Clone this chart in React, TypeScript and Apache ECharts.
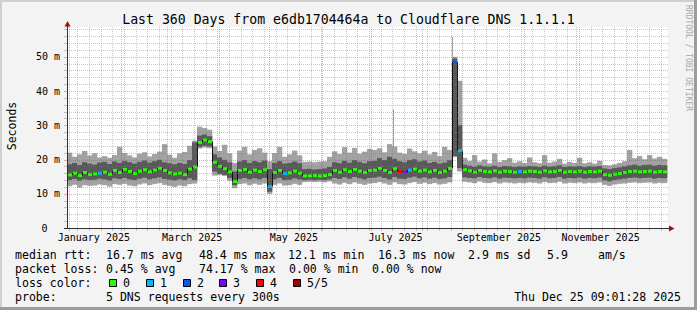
import React, { useEffect, useRef } from 'react';
import * as echarts from 'echarts';

const FONT = '"DejaVu Sans Mono", monospace';
const DAY_MS = 86400000;
const X_START = Date.UTC(2024, 11, 30, 21, 0, 0);
const X_END = X_START + 360 * DAY_MS;
const STEP_DAYS = 3;
const Y_MAX = 58.4;

// one value per 3-day column (120 columns over 360 days), milliseconds
const median = [
  15.5, 16.0, 15.3, 16.2, 15.6, 15.8, 16.0, 16.3, 15.7, 16.8,
  16.2, 17.1, 16.5, 15.9, 16.6, 17.0, 16.4, 16.9, 17.4, 16.8,
  16.1, 15.8, 16.0, 15.6, 17.2, 17.8, 25.0, 25.7, 25.2, 19.2,
  18.0, 17.3, 16.4, 13.6, 16.8, 17.1, 16.3, 16.9, 16.5, 17.0,
  12.1, 16.2, 16.8, 15.9, 16.1, 16.6, 16.0, 15.2, 15.2, 15.3,
  15.2, 15.3, 15.6, 16.8, 16.3, 17.0, 16.5, 17.1, 16.6, 16.2,
  16.8, 16.9, 17.4, 16.8, 16.2, 17.3, 16.5, 16.3, 16.9, 17.2,
  16.6, 16.9, 16.4, 16.8, 16.2, 16.6, 17.4, 48.4, 22.6, 17.0,
  16.7, 16.3, 16.8, 16.5, 16.4, 16.7, 16.3, 16.6, 16.5, 16.3,
  16.5, 16.4, 16.6, 16.5, 16.3, 16.7, 16.4, 16.5, 16.8, 16.3,
  16.5, 16.4, 16.6, 16.3, 16.5, 16.4, 16.6, 15.6, 15.4, 15.7,
  15.9, 16.2, 16.5, 16.6, 16.4, 16.5, 16.6, 16.3, 16.5, 16.4,
];
const darkLow = [
  14.0, 14.3, 13.8, 14.2, 14.0, 14.1, 14.4, 14.2, 13.9, 14.5,
  14.3, 14.6, 14.2, 14.0, 14.4, 14.7, 14.2, 14.5, 14.8, 14.3,
  14.1, 13.9, 14.2, 14.0, 14.5, 14.0, 23.6, 24.0, 23.8, 16.5,
  15.8, 15.5, 14.6, 12.5, 14.3, 14.6, 14.2, 14.5, 14.2, 14.6,
  10.6, 14.2, 14.6, 14.0, 14.1, 14.5, 14.2, 14.0, 14.1, 14.0,
  14.1, 14.0, 14.2, 14.6, 14.3, 14.8, 14.4, 14.9, 14.5, 14.2,
  14.6, 14.7, 15.0, 14.6, 14.2, 14.9, 14.4, 14.3, 14.7, 15.0,
  14.5, 14.8, 14.4, 14.7, 14.3, 14.5, 14.9, 21.0, 17.5, 14.8,
  14.6, 14.5, 14.9, 14.6, 14.5, 14.8, 14.4, 14.7, 14.6, 14.5,
  14.6, 14.5, 14.7, 14.6, 14.4, 14.8, 14.5, 14.6, 14.9, 14.4,
  14.6, 14.5, 14.7, 14.4, 14.6, 14.5, 14.7, 13.9, 13.6, 14.0,
  14.2, 14.4, 14.6, 14.7, 14.5, 14.6, 14.7, 14.4, 14.6, 14.5,
];
const darkHigh = [
  18.6, 19.0, 18.4, 19.2, 18.8, 18.5, 19.1, 19.3, 18.7, 19.4,
  19.0, 19.6, 19.2, 18.8, 19.3, 19.7, 19.1, 19.5, 19.9, 19.2,
  18.9, 18.6, 19.0, 18.7, 19.8, 25.0, 27.0, 27.3, 26.8, 21.5,
  20.6, 19.9, 19.2, 16.5, 19.4, 19.8, 19.0, 19.6, 19.2, 19.7,
  17.2, 19.0, 19.5, 18.8, 19.0, 19.4, 18.9, 17.2, 17.3, 17.1,
  17.2, 17.4, 17.8, 19.2, 18.9, 19.6, 19.1, 19.8, 19.3, 18.9,
  19.5, 19.6, 20.4, 19.8, 20.8, 20.2, 19.5, 19.2, 19.8, 20.1,
  19.4, 19.7, 19.0, 19.3, 18.8, 19.1, 19.8, 49.5, 30.0, 18.5,
  18.2, 17.9, 18.3, 18.0, 17.9, 18.2, 17.8, 18.1, 18.0, 17.8,
  18.0, 17.9, 18.1, 18.0, 17.8, 18.2, 17.9, 18.0, 18.3, 17.8,
  18.0, 17.9, 18.1, 17.8, 18.0, 17.9, 18.1, 17.4, 17.2, 17.5,
  17.7, 18.0, 18.3, 18.5, 18.2, 18.4, 18.5, 18.2, 18.4, 18.3,
];
const lightLow = [
  12.2, 12.6, 11.8, 12.5, 12.3, 12.4, 12.7, 12.5, 12.1, 12.8,
  12.6, 12.9, 12.4, 12.2, 12.7, 13.0, 12.5, 12.8, 13.1, 12.6,
  12.3, 12.0, 12.4, 12.2, 12.8, 13.0, 23.2, 23.5, 23.3, 15.3,
  15.5, 15.2, 13.8, 11.6, 12.8, 13.0, 12.5, 12.9, 12.6, 13.0,
  10.0, 12.6, 13.0, 12.4, 12.5, 12.9, 12.6, 13.4, 13.5, 13.4,
  13.5, 13.3, 13.6, 13.0, 12.7, 13.2, 12.8, 13.3, 12.9, 12.6,
  13.0, 13.1, 13.4, 13.0, 12.6, 13.3, 12.8, 12.7, 13.1, 13.4,
  12.9, 13.2, 12.8, 13.1, 12.7, 12.9, 13.3, 20.7, 16.5, 13.5,
  13.3, 13.1, 13.6, 13.2, 13.1, 13.4, 13.0, 13.3, 13.2, 13.0,
  13.2, 13.1, 13.3, 13.2, 13.0, 13.4, 13.1, 13.2, 13.5, 13.0,
  13.2, 13.1, 13.3, 13.0, 13.2, 13.1, 13.3, 12.6, 12.3, 12.7,
  12.9, 13.0, 13.2, 13.3, 13.1, 13.2, 13.3, 13.0, 13.2, 13.1,
];
const lightHigh = [
  22.0, 20.8, 21.5, 22.5, 21.2, 21.8, 20.6, 21.0, 20.5, 21.3,
  23.7, 21.9, 21.2, 20.6, 21.7, 22.1, 20.9, 21.6, 22.3, 24.5,
  21.4, 20.5, 21.8, 22.2, 24.0, 25.5, 29.6, 29.2, 28.7, 23.8,
  22.5, 24.3, 21.8, 19.0, 22.6, 23.7, 21.5, 22.8, 23.3, 22.0,
  19.5, 21.9, 23.7, 20.8, 21.5, 22.6, 21.2, 19.3, 19.4, 19.2,
  19.4, 19.5, 20.8, 22.4, 21.6, 23.6, 22.0, 23.4, 21.7, 22.3,
  23.1, 22.8, 23.3, 22.1, 24.5, 23.8, 22.0, 21.6, 23.2, 22.4,
  21.8, 22.6, 21.5, 22.2, 21.0, 23.7, 22.8, 50.0, 43.0, 20.5,
  19.6, 21.3, 19.4, 20.0, 18.9, 21.8, 19.3, 19.8, 20.4, 19.1,
  19.5, 19.0, 20.6, 19.2, 18.9, 21.3, 19.1, 19.4, 20.2, 18.8,
  19.3, 19.0, 20.5, 18.9, 19.2, 18.8, 19.6, 18.4, 18.3, 18.6,
  19.0, 19.5, 22.8, 20.4, 21.0, 20.1, 21.3, 20.3, 20.8, 20.2,
];

// columns whose median is drawn in a loss colour other than "0"
const lossColumns = [6, 40, 43, 66, 67, 68, 77, 78, 90];
const lossLevels = [1, 1, 1, 4, 3, 1, 2, 1, 1];
const lossColors = ['#26ff00', '#00b8ff', '#0059ff', '#7e00ff', '#ff0000', '#a10000'];
const lossNames = ['0', '1', '2', '3', '4', '5/5'];

// thin single-sample spikes of the outer smoke
const spikeDates = ['2025-07-14T12:00:00Z', '2025-08-19T03:00:00Z'];
const spikeBase = [23.0, 49.5];
const spikeTop = [34.6, 55.8];

const monthLabels = ['January 2025', 'March 2025', 'May 2025', 'July 2025', 'September 2025', 'November 2025'];
const monthLabelDates = ['2025-01-16T00:00:00Z', '2025-03-16T00:00:00Z', '2025-05-16T00:00:00Z', '2025-07-16T00:00:00Z', '2025-09-16T00:00:00Z', '2025-11-16T00:00:00Z'];

const legendRtt = ['median rtt:', '16.7 ms avg', '48.4 ms max', '12.1 ms min', '16.3 ms now', '2.9 ms sd', '5.9', 'am/s'];
const legendRttX = [15, 106, 199, 288, 378, 468, 547, 598];
const legendLoss = ['packet loss:', '0.45 % avg', '74.17 % max', '0.00 % min', '0.00 % now'];
const legendLossX = [15, 106, 199, 289, 372];

const LIGHT = '#a2a2a2';
const DARK = '#595959';
const MINOR = 'rgba(120,120,120,0.42)';
const MAJOR = 'rgba(220,40,40,0.38)';

export default function App() {
  const ref = useRef<HTMLDivElement>(null);

  useEffect(() => {
    if (!ref.current) return;
    const chart = echarts.init(ref.current, null, { renderer: 'svg' });
    const n = Math.min(median.length, darkLow.length, darkHigh.length, lightLow.length, lightHigh.length);
    const colT = (i: number) => X_START + i * STEP_DAYS * DAY_MS;

    const smokeData: number[][] = [];
    const medData: number[][] = [];
    for (let i = 0; i < n; i++) {
      smokeData.push([colT(i), colT(i + 1), lightLow[i], lightHigh[i], darkLow[i], darkHigh[i]]);
      const li = lossColumns.indexOf(i);
      medData.push([colT(i), colT(i + 1), median[i], i > 0 ? median[i - 1] : median[i], li >= 0 ? lossLevels[li] : 0]);
    }
    const spikeData = spikeDates.map((d, i) => [Date.parse(d), spikeBase[i], spikeTop[i]]);

    // grid lines: [x, y, code] code 0 = minor horizontal, 1 = major horizontal, 2 = minor vertical, 3 = major vertical
    const gridData: number[][] = [];
    for (let v = 2; v < Y_MAX; v += 2) gridData.push([X_START, v, v % 10 === 0 ? 1 : 0]);
    const monthStarts: number[] = [];
    for (let m = 0; m < 12; m++) monthStarts.push(Date.UTC(2025, m, 1));
    for (let t = Date.UTC(2025, 0, 6); t < X_END; t += 7 * DAY_MS) {
      if (monthStarts.indexOf(t) < 0) gridData.push([t, 0, 2]);
    }
    monthStarts.forEach((t) => { if (t > X_START && t < X_END) gridData.push([t, 0, 3]); });

    const labelData = monthLabelDates.map((d) => [Date.parse(d), 0]);

    const txt = (text: string, x: number, y: number, size: number, extra: any = {}) => ({
      type: 'text', x, y, z: 20, silent: true,
      style: {
        text, fill: extra.fill || '#000', fontSize: size, fontFamily: FONT,
        align: extra.align || 'left', textAlign: extra.align || 'left',
        verticalAlign: 'middle', textVerticalAlign: 'middle',
      },
      rotation: extra.rotation || 0,
    });

    const graphics: any[] = [
      { type: 'rect', z: 0, silent: true, shape: { x: 67, y: 27, width: 601, height: 201 }, style: { fill: '#ffffff' } },
      { type: 'rect', z: 0, silent: true, shape: { x: 0, y: 0, width: 697, height: 2 }, style: { fill: '#cfcfcf' } },
      { type: 'rect', z: 0, silent: true, shape: { x: 0, y: 0, width: 2, height: 310 }, style: { fill: '#cfcfcf' } },
      { type: 'rect', z: 0, silent: true, shape: { x: 694, y: 0, width: 3, height: 310 }, style: { fill: '#9c9c9c' } },
      { type: 'rect', z: 0, silent: true, shape: { x: 0, y: 307, width: 697, height: 3 }, style: { fill: '#9c9c9c' } },
      // axes
      { type: 'line', z: 30, silent: true, shape: { x1: 67.5, y1: 229, x2: 67.5, y2: 24 }, style: { stroke: '#303030', lineWidth: 1 } },
      { type: 'line', z: 30, silent: true, shape: { x1: 64, y1: 228.5, x2: 671, y2: 228.5 }, style: { stroke: '#303030', lineWidth: 1 } },
      { type: 'polygon', z: 31, silent: true, shape: { points: [[64.5, 26.5], [70.5, 26.5], [67.5, 21]] }, style: { fill: '#a01010' } },
      { type: 'polygon', z: 31, silent: true, shape: { points: [[669, 225.5], [669, 231.5], [674.5, 228.5]] }, style: { fill: '#a01010' } },
      txt('Last 360 Days from e6db1704464a to Cloudflare DNS 1.1.1.1', 348.5, 19.4, 13.2, { align: 'center' }),
      txt('Seconds', 11.5, 126, 11.5, { align: 'center', rotation: Math.PI / 2 }),
      txt('RRDTOOL / TOBI OETIKER', 688.5, 5, 8, { align: 'left', rotation: -Math.PI / 2, fill: '#a8a8a8' }),
    ];
    legendRtt.forEach((s, i) => graphics.push(txt(s, legendRttX[i], 254.9, 11.55)));
    legendLoss.forEach((s, i) => graphics.push(txt(s, legendLossX[i], 268.9, 11.55)));
    graphics.push(txt('loss color:', 15, 283, 11.55));
    lossNames.forEach((s, i) => {
      const bx = 109 + i * 36.8;
      graphics.push({ type: 'rect', z: 20, silent: true, shape: { x: Math.round(bx) + 0.5, y: 279.5, width: 7, height: 7 }, style: { fill: lossColors[i], stroke: '#000', lineWidth: 1 } });
      graphics.push(txt(s, Math.round(bx) + 14, 283, 11.55));
    });
    graphics.push(txt('probe:', 15, 296.6, 11.55));
    graphics.push(txt('5 DNS requests every 300s', 106, 296.6, 11.55));
    graphics.push(txt('Thu Dec 25 09:01:28 2025', 681, 296.6, 11.55, { align: 'right' }));

    const option: any = {
      animation: false,
      backgroundColor: '#f3f3f3',
      grid: { left: 67, top: 28, width: 600, height: 200, containLabel: false },
      xAxis: {
        type: 'value', min: X_START, max: X_END,
        axisLine: { show: false }, axisTick: { show: false }, axisLabel: { show: false }, splitLine: { show: false },
      },
      yAxis: {
        type: 'value', min: 0, max: Y_MAX, interval: 10,
        axisLine: { show: false }, axisTick: { show: false }, splitLine: { show: false },
        axisLabel: {
          margin: 7, fontFamily: FONT, fontSize: 10, color: '#000',
          formatter: (v: number) => (v === 0 ? '{z|0}' : Math.abs(v % 10) < 1e-9 ? v + ' m' : ''),
          rich: { z: { fontFamily: FONT, fontSize: 10, color: '#000', padding: [0, 12.5, 0, 0] } },
        },
      },
      graphic: graphics,
      series: [
        {
          type: 'custom', name: 'smoke', z: 2, silent: true, clip: false,
          encode: { x: [0, 1], y: [2, 3, 4, 5] },
          data: smokeData,
          renderItem: (params: any, api: any) => {
            const a = api.coord([api.value(0), api.value(2)]);
            const b = api.coord([api.value(1), api.value(3)]);
            const c = api.coord([api.value(0), api.value(4)]);
            const d = api.coord([api.value(1), api.value(5)]);
            return {
              type: 'group',
              children: [
                { type: 'rect', shape: { x: a[0], y: b[1], width: b[0] - a[0] + 0.3, height: a[1] - b[1] }, style: { fill: LIGHT } },
                { type: 'rect', shape: { x: c[0], y: d[1], width: d[0] - c[0] + 0.3, height: c[1] - d[1] }, style: { fill: DARK } },
              ],
            };
          },
        },
        {
          type: 'custom', name: 'spikes', z: 2, silent: true, clip: false,
          encode: { x: 0, y: [1, 2] },
          data: spikeData,
          renderItem: (params: any, api: any) => {
            const a = api.coord([api.value(0), api.value(1)]);
            const b = api.coord([api.value(0), api.value(2)]);
            return { type: 'rect', shape: { x: Math.round(a[0]), y: b[1], width: 1, height: a[1] - b[1] }, style: { fill: LIGHT } };
          },
        },
        {
          type: 'custom', name: 'median', z: 3, silent: true, clip: false,
          encode: { x: [0, 1], y: [2, 3] },
          data: medData,
          renderItem: (params: any, api: any) => {
            const p0 = api.coord([api.value(0), api.value(2)]);
            const p1 = api.coord([api.value(1), api.value(2)]);
            const pp = api.coord([api.value(0), api.value(3)]);
            const col = lossColors[api.value(4)] || lossColors[0];
            return {
              type: 'group',
              children: [
                { type: 'line', shape: { x1: p0[0] + 0.5, y1: pp[1], x2: p0[0] + 0.5, y2: p0[1] }, style: { stroke: '#111', lineWidth: 1 } },
                { type: 'rect', shape: { x: p0[0] + 1, y: p0[1] - 1.5, width: p1[0] - p0[0] - 1, height: 3 }, style: { fill: col } },
              ],
            };
          },
        },
        {
          type: 'custom', name: 'grid', z: 4, silent: true, clip: false,
          encode: { x: 0, y: 1 },
          data: gridData,
          renderItem: (params: any, api: any) => {
            const code = api.value(2);
            const color = code === 1 || code === 3 ? MAJOR : MINOR;
            if (code < 2) {
              const a = api.coord([X_START, api.value(1)]);
              const b = api.coord([X_END, api.value(1)]);
              const y = Math.round(a[1]) + 0.5;
              return {
                type: 'group',
                children: [
                  { type: 'line', shape: { x1: a[0], y1: y, x2: b[0] + 1, y2: y }, style: { stroke: color, lineWidth: 1, lineDash: [1, 1] } },
                  { type: 'line', shape: { x1: a[0] - 3, y1: y, x2: a[0], y2: y }, style: { stroke: color, lineWidth: 1 } },
                ],
              };
            }
            const a = api.coord([api.value(0), 0]);
            const b = api.coord([api.value(0), Y_MAX]);
            const x = Math.round(a[0]) + 0.5;
            return {
              type: 'group',
              children: [
                { type: 'line', shape: { x1: x, y1: a[1], x2: x, y2: b[1] - 1 }, style: { stroke: color, lineWidth: 1, lineDash: [1, 1] } },
                { type: 'line', shape: { x1: x, y1: a[1], x2: x, y2: a[1] + 3 }, style: { stroke: color, lineWidth: 1 } },
              ],
            };
          },
        },
        {
          type: 'custom', name: 'monthLabels', z: 5, silent: true, clip: false,
          encode: { x: 0, y: 1 },
          data: labelData,
          renderItem: (params: any, api: any) => {
            const p = api.coord([api.value(0), 0]);
            return {
              type: 'text', x: p[0], y: p[1] + 9.6,
              style: {
                text: monthLabels[params.dataIndex], fill: '#000', fontSize: 10, fontFamily: FONT,
                align: 'center', textAlign: 'center', verticalAlign: 'middle', textVerticalAlign: 'middle',
              },
            };
          },
        },
      ],
    };
    chart.setOption(option);
    return () => chart.dispose();
  }, []);

  return <div ref={ref} style={{ position: 'fixed', left: 0, top: 0, width: 697, height: 310 }} />;
}
